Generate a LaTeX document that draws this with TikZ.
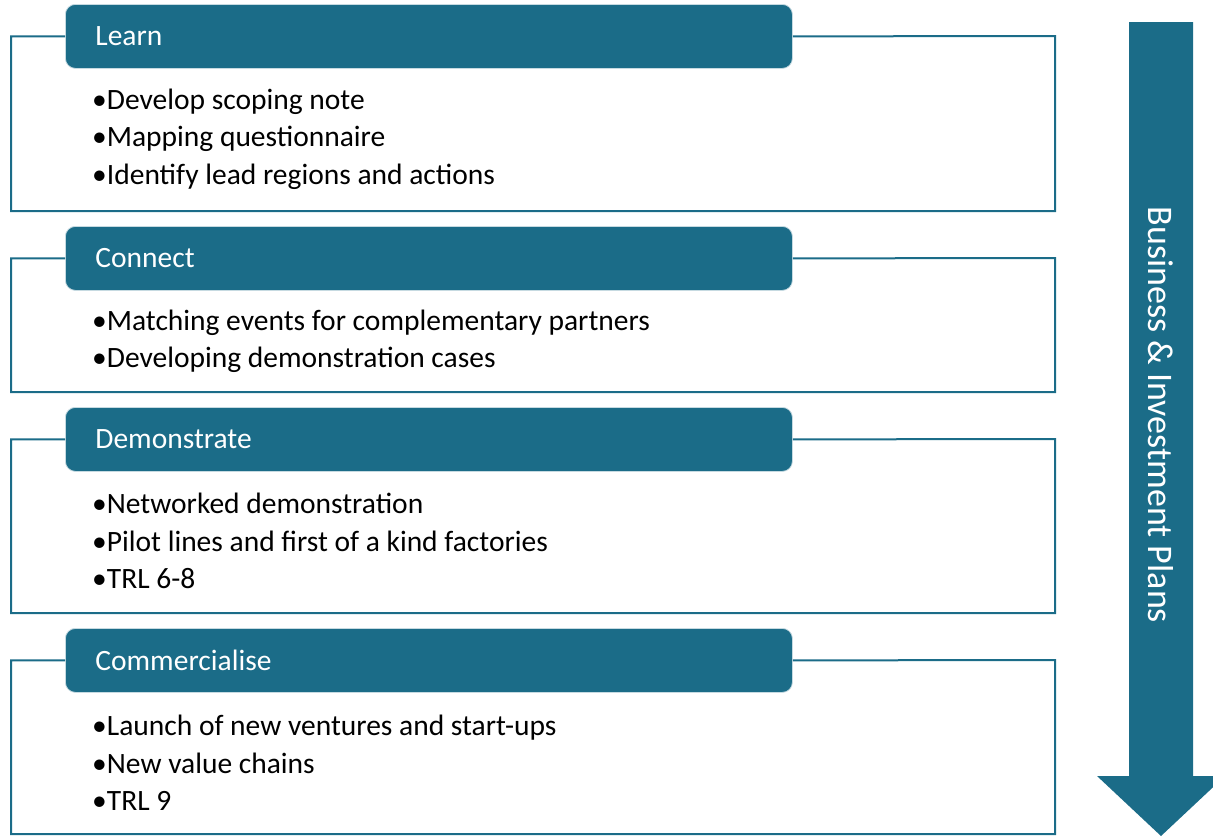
\documentclass[tikz,border=0pt]{standalone}
\usepackage{fontspec}
\setmainfont{Carlito}
\usepackage{tikz}
\usetikzlibrary{positioning}
\definecolor{stageblue}{RGB}{27,108,136}

\begin{document}
\begin{tikzpicture}[x = 1pt, y = -1pt,
    every node/.style = { font = \fontsize{29.5}{37.5}\selectfont },
    head/.style = { draw = white!75!stageblue, line width = .8pt, fill = stageblue, text = white,
                    rounded corners = 10pt, anchor = north west, align = left,
                    text width = 667pt, inner xsep = 30pt, inner ysep = 0pt, minimum height = 64pt },
    frame/.style = { draw = stageblue, line width = 2pt },
    items/.style = { anchor = west, align = left, inner sep = 0pt }]
      \clip (0,0) rectangle (1213,836);

      % stages
      \node [head] (learn) at (65,4) { Learn };
      \node [head] (connect) at (65,226) { Connect };
      \node [head] (demo) at (65,407) { Demonstrate };
      \node [head] (market) at (65,628) { Commercialise };

      \draw [frame] (learn.west) -| (11,211) -| (1055,36) -- (learn.east);
      \draw [frame] (connect.west) -| (11,392) -| (1055,258) -- (connect.east);
      \draw [frame] (demo.west) -| (11,613) -| (1055,439) -- (demo.east);
      \draw [frame] (market.west) -| (11,834) -| (1055,660) -- (market.east);

      \node [items] (learnlist) at (92,139)
        { •Develop scoping note \\ •Mapping questionnaire \\ •Identify lead regions and actions };
      \node [items] (connectlist) at (92,341.5)
        { •Matching events for complementary partners \\ •Developing demonstration cases };
      \node [items] (demolist) at (92,541)
        { •Networked demonstration \\ •Pilot lines and first of a kind factories \\ •TRL 6-8 };
      \node [items] (marketlist) at (92,763)
        { •Launch of new ventures and start-ups \\ •New value chains \\ •TRL 9 };

      % arrow
      \fill [stageblue] (1129,22) -- (1193,22) -- (1193,776) -- (1225,776)
        -- (1161,836) -- (1097,776) -- (1129,776) -- cycle;
      \node [text = white, rotate = -90, font = \fontsize{36}{40}\selectfont] (plans) at (1161,415)
        { Business \& Investment Plans };
\end{tikzpicture}
\end{document}
